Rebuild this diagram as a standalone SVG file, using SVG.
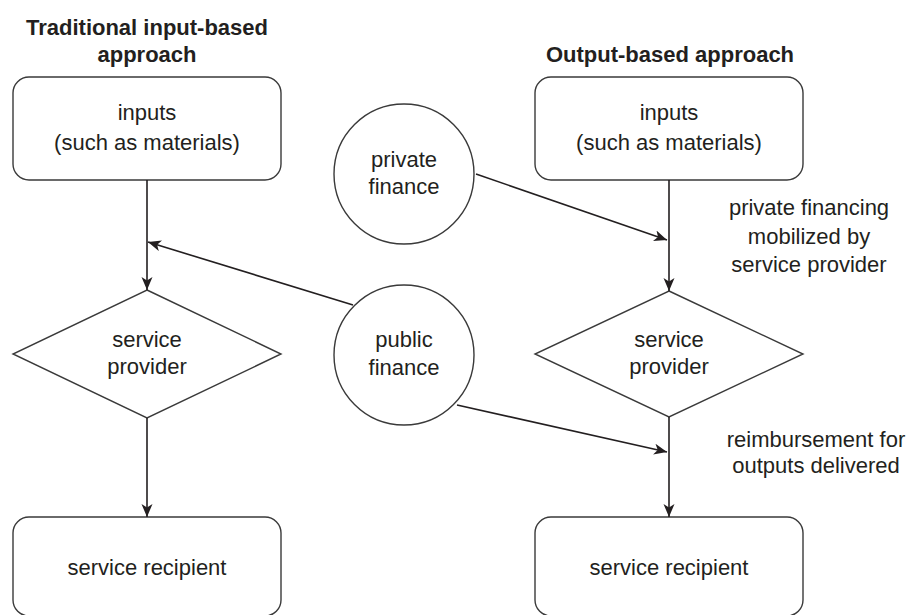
<svg xmlns="http://www.w3.org/2000/svg" width="911" height="615" viewBox="0 0 911 615">
<style>
text{font-family:"Liberation Sans",Arial,sans-serif;font-size:22px;fill:#231f20;text-anchor:middle}
.title{font-weight:bold}
.shape{fill:#fff;stroke:#3a3a3a;stroke-width:1.4}
.conn{fill:none;stroke:#231f20;stroke-width:1.6}
</style>
<defs>
<marker id="ah" markerUnits="userSpaceOnUse" markerWidth="14" markerHeight="12" refX="13" refY="6" orient="auto">
<path d="M0,0.5 L13,6 L0,11.5 L3.5,6 Z" fill="#231f20"/>
</marker>
</defs>
<rect width="911" height="615" fill="#fff"/>
<g id="title-left">
<text class="title" x="147" y="35">Traditional input-based</text>
<text class="title" x="147" y="62">approach</text>
</g>
<g id="title-right">
<text class="title" x="670" y="62">Output-based approach</text>
</g>
<g id="inputs-left">
<rect class="shape" x="13" y="77" width="268" height="103" rx="16"/>
<text x="147" y="120">inputs</text>
<text x="147" y="150">(such as materials)</text>
</g>
<g id="provider-left">
<polygon class="shape" points="147,290 281,354 147,418 13,354"/>
<text x="147" y="347">service</text>
<text x="147" y="374">provider</text>
</g>
<g id="recipient-left">
<rect class="shape" x="13" y="517" width="268" height="99" rx="16"/>
<text x="147" y="575">service recipient</text>
</g>
<g id="inputs-right">
<rect class="shape" x="535" y="77" width="268" height="103" rx="16"/>
<text x="669" y="120">inputs</text>
<text x="669" y="150">(such as materials)</text>
</g>
<g id="provider-right">
<polygon class="shape" points="669,291 803,354 669,417 535,354"/>
<text x="669" y="347">service</text>
<text x="669" y="374">provider</text>
</g>
<g id="recipient-right">
<rect class="shape" x="535" y="517" width="268" height="99" rx="16"/>
<text x="669" y="575">service recipient</text>
</g>
<g id="private-finance">
<circle class="shape" cx="404" cy="174" r="70"/>
<text x="404" y="167">private</text>
<text x="404" y="194">finance</text>
</g>
<g id="public-finance">
<circle class="shape" cx="404" cy="355" r="70"/>
<text x="404" y="347">public</text>
<text x="404" y="375">finance</text>
</g>
<g id="label-private">
<text x="809" y="215">private financing</text>
<text x="809" y="244">mobilized by</text>
<text x="809" y="272">service provider</text>
</g>
<g id="label-reimb">
<text x="816" y="447">reimbursement for</text>
<text x="816" y="473">outputs delivered</text>
</g>
<g id="connectors">
<line class="conn" x1="147" y1="180" x2="147" y2="290" marker-end="url(#ah)"/>
<line class="conn" x1="147" y1="418" x2="147" y2="517" marker-end="url(#ah)"/>
<line class="conn" x1="669" y1="180" x2="669" y2="291" marker-end="url(#ah)"/>
<line class="conn" x1="669" y1="417" x2="669" y2="517" marker-end="url(#ah)"/>
<line class="conn" x1="353" y1="305" x2="148" y2="242" marker-end="url(#ah)"/>
<line class="conn" x1="476" y1="174" x2="667" y2="240" marker-end="url(#ah)"/>
<line class="conn" x1="457" y1="405" x2="667" y2="452" marker-end="url(#ah)"/>
</g>
</svg>
